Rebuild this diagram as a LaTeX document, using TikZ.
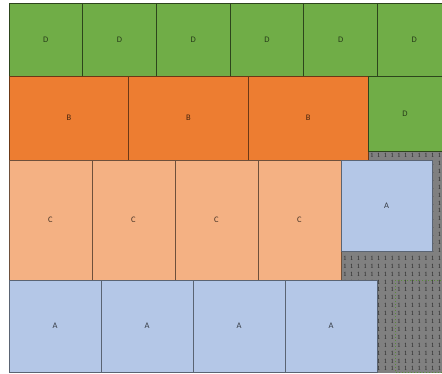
\documentclass[tikz,border=0pt]{standalone}
\usepackage{fontspec}
\setmainfont{Carlito}
\newfontfamily\onefont{Liberation Serif}
\definecolor{dgreen}{HTML}{70AD47}
\definecolor{dorange}{HTML}{ED7D31}
\definecolor{lorange}{HTML}{F4B183}
\definecolor{lblue}{HTML}{B4C7E7}
\definecolor{gridgrey}{HTML}{808080}
\begin{document}
\begin{tikzpicture}[x=1pt,y=-1pt,
  cell/.style={line width=0.8pt, inner sep=0pt, outer sep=0pt, anchor=north west,
    font=\fontsize{8.5}{8.5}\selectfont},
  dcell/.style={cell, fill=dgreen, draw=dgreen!40!black, text=dgreen!35!black,
    minimum width=73.7pt, minimum height=73pt},
  bcell/.style={cell, fill=dorange, draw=dorange!45!black, text=dorange!30!black,
    minimum width=119.7pt, minimum height=84pt},
  ccell/.style={cell, fill=lorange, draw=lorange!45!black, text=lorange!30!black,
    minimum width=83pt, minimum height=120pt},
  acell/.style={cell, fill=lblue, draw=lblue!50!black, text=lblue!30!black,
    minimum width=92pt, minimum height=92pt},
  onemark/.style={inner sep=0pt, font=\onefont\fontsize{6.5}{6.5}\selectfont, text=black!85}
]
\useasboundingbox (0,0) rectangle (442,373);
\fill[white] (0,0) rectangle (442,373);
\clip (0,0) rectangle (442,373);
% grey area with 1s
\fill[gridgrey] (341,151) rectangle (442,373);
\foreach \i in {0,...,14}
  \foreach \j in {0,...,27} {
    \pgfmathsetmacro\xx{345+\i*6.75}
    \pgfmathsetmacro\yy{155.5+\j*7.9}
    \pgfmathtruncatemacro\hid{or(or(and(\yy<160,\xx<370),and(and(\xx>339,\xx<430),and(\yy>162,\yy<249))),and(\xx<375,\yy>282))}
    \ifnum\hid=0
      \node[onemark] (one-\i-\j) at (\xx,\yy) {1};
    \fi
  }
\draw[dgreen!80!black, line width=1pt, dotted] (395,280) rectangle (452,372);
% row D
\foreach \k in {0,...,5}
  \node[dcell] (d\k) at (9+\k*73.7, 3) {D};
% row B
\foreach \k in {0,...,2}
  \node[bcell] (b\k) at (9+\k*119.7, 76) {B};
\node[dcell, minimum width=74pt, minimum height=75pt] (d6) at (368, 76) {D};
% row C
\foreach \k in {0,...,3}
  \node[ccell] (c\k) at (9+\k*83, 160) {C};
\node[acell, minimum width=91pt, minimum height=91pt] (a0) at (341, 160) {A};
% row A
\foreach \k in {1,...,4}
  \node[acell] (a\k) at (9+\k*92-92, 280) {A};
\end{tikzpicture}
\end{document}
